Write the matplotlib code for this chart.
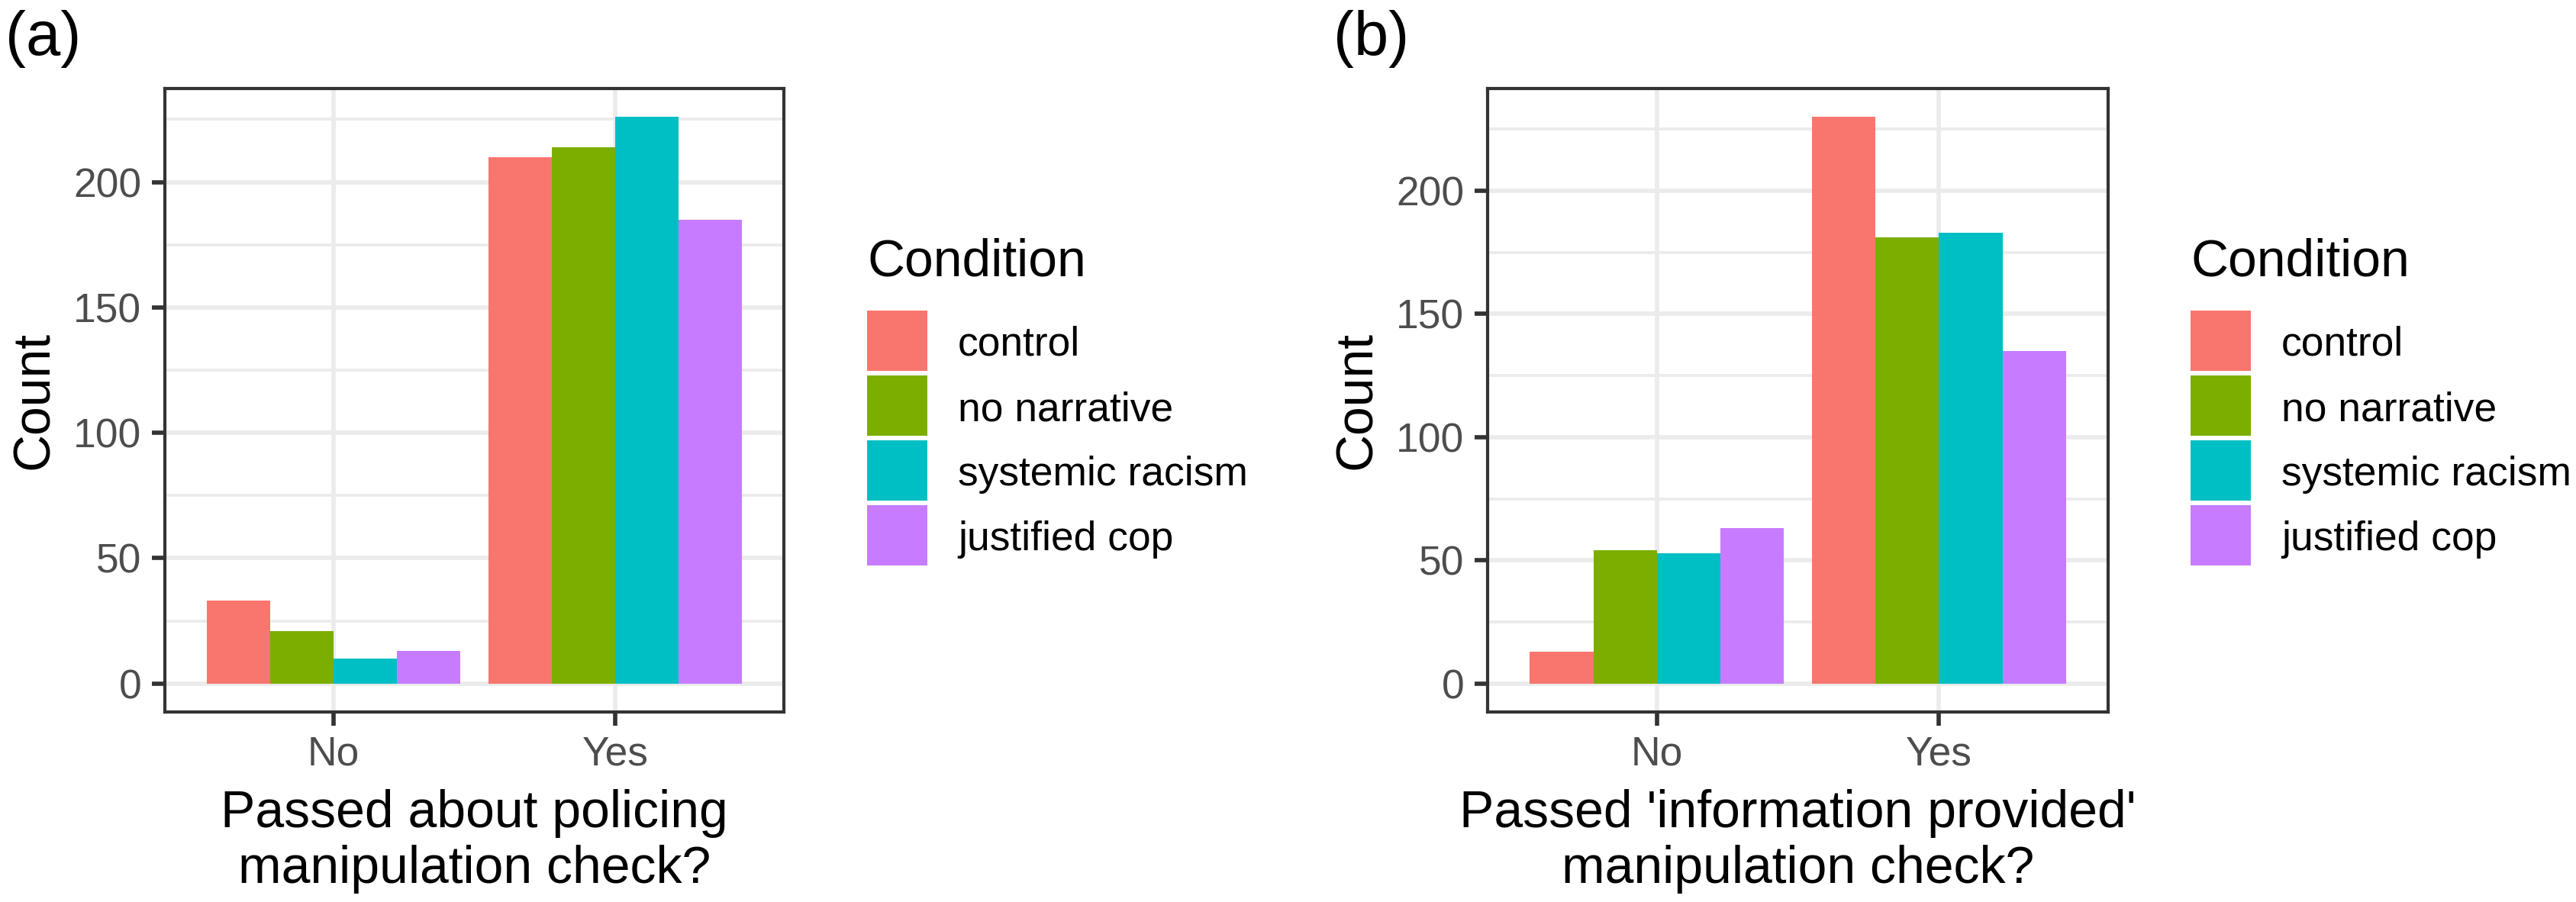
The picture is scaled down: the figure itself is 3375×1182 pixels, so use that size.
import numpy as np
import matplotlib
matplotlib.use("Agg")
import matplotlib.pyplot as plt
from matplotlib.patches import Rectangle

plt.rcParams["font.family"] = ["Liberation Sans", "DejaVu Sans"]

# data
conditions = ["control", "no narrative", "systemic racism", "justified cop"]
colors = ["#F8766D", "#7CAE00", "#00BFC4", "#C77CFF"]
answers = ["No", "Yes"]

policing_no = [33, 21, 10, 13]
policing_yes = [210, 214, 226, 185]
info_no = [13, 54, 53, 63]
info_yes = [230, 181, 183, 135]

xlabels = ["Passed about policing\nmanipulation check?",
           "Passed 'information provided'\nmanipulation check?"]
tags = ["(a)", "(b)"]

TICK_FS = 12.8
TITLE_FS = 16.3
GRID = "#EBEBEB"
DARK = "#333333"
W, H = 3375, 1182

fig = plt.figure(figsize=(W / 300, H / 300), dpi=300)


def panel(rect, no_vals, yes_vals, xlabel):
    ax = fig.add_axes(rect)
    width = 0.9 / len(conditions)
    x = np.arange(1, len(answers) + 1)
    for i, (cond, col) in enumerate(zip(conditions, colors)):
        vals = [no_vals[i], yes_vals[i]]
        ax.bar(x - 0.45 + width * (i + 0.5), vals, width=width, color=col,
               label=cond, zorder=2, linewidth=0)
    ymax = max(no_vals + yes_vals)
    ax.set_ylim(-0.05 * ymax, 1.05 * ymax)
    ax.set_xlim(0.4, 2.6)
    ax.set_xticks(x)
    ax.set_xticklabels(answers)
    ax.set_yticks([0, 50, 100, 150, 200])
    ax.set_yticks([25, 75, 125, 175, 225], minor=True)
    ax.grid(True, which="major", color=GRID, linewidth=1.35, zorder=0)
    ax.grid(True, which="minor", axis="y", color=GRID, linewidth=0.9, zorder=0)
    ax.set_axisbelow(True)
    ax.tick_params(which="major", labelsize=TICK_FS, labelcolor="#4D4D4D",
                   color=DARK, length=4.2, width=1.35, pad=3.2)
    ax.tick_params(which="minor", length=0)
    for s in ax.spines.values():
        s.set_color(DARK)
        s.set_linewidth(1.0)
    ax.set_ylabel("Count", fontsize=TITLE_FS, labelpad=4.6)
    ax.set_xlabel(xlabel, fontsize=TITLE_FS, labelpad=4.8, linespacing=1.18)
    return ax


ax_a = panel([0.064, 0.2107, 0.2403, 0.6912], policing_no, policing_yes, xlabels[0])
ax_b = panel([0.5775, 0.2107, 0.2409, 0.6912], info_no, info_yes, xlabels[1])


def legend(x0):
    # ggplot-style legend: title, then stacked square keys (pixel layout)
    fig.text(x0 / W, 1 - 362 / H, "Condition", fontsize=TITLE_FS,
             ha="left", va="baseline")
    key, pitch = 79, 85
    for j, (cond, col) in enumerate(zip(conditions, colors)):
        top = 407 + j * pitch
        fig.add_artist(Rectangle((x0 / W, 1 - (top + key) / H), key / W, key / H,
                                 transform=fig.transFigure, facecolor=col,
                                 edgecolor="none"))
        fig.text((x0 + 119) / W, 1 - (top + 59) / H, cond, fontsize=TICK_FS,
                 ha="left", va="baseline")


legend(1136)
legend(2870)

fig.text(0.002, 1 - 51 / H, tags[0], fontsize=19.5, va="center", ha="left")
fig.text(0.5175, 1 - 51 / H, tags[1], fontsize=19.5, va="center", ha="left")

fig.savefig("out.png", dpi=300)
